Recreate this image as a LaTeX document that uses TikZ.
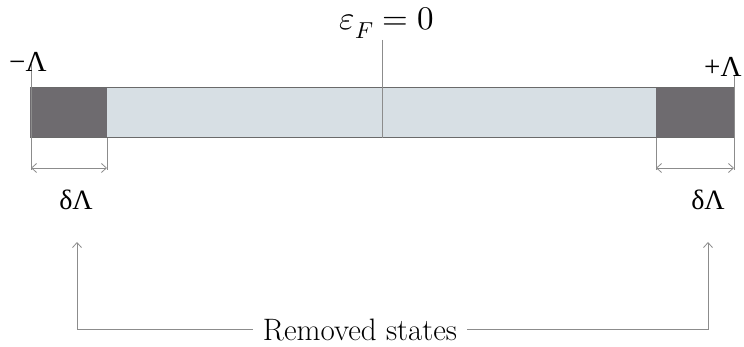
\documentclass[tikz,border=0pt]{standalone}
\usepackage{fontspec}
\usepackage{unicode-math}
\newfontfamily\tms{Liberation Serif}
\usetikzlibrary{arrows.meta}
\definecolor{darkbar}{HTML}{6E6B6F}
\definecolor{lightbar}{HTML}{D7DFE4}
\definecolor{linegray}{HTML}{8C8C8C}
\definecolor{edgegray}{HTML}{6A6A6A}
\begin{document}
\begin{tikzpicture}[x=1pt,y=-1pt,
  thin line/.style={draw=linegray, line width=0.9pt},
  barb/.style={-{Straight Barb[length=5pt,width=9pt,line width=0.8pt]}},
  barbs/.style={{Straight Barb[length=5pt,width=9pt,line width=0.8pt]}-{Straight Barb[length=5pt,width=9pt,line width=0.8pt]}},
  lbl/.style={inner sep=0pt, anchor=base, text=black}]
\useasboundingbox (0,0) rectangle (744,347);
% bar
\fill[lightbar] (107,88) rectangle (656,138);
\fill[darkbar] (30,88) rectangle (107,138);
\fill[darkbar] (656,88) rectangle (734,138);
\draw[draw=edgegray, line width=1pt] (30,88) -- (734,88);
\draw[draw=edgegray, line width=1pt] (30,138) -- (734,138);
% coordinates
\coordinate (lt) at (31,64);
\coordinate (rt) at (734,75);
\coordinate (ld) at (31,170);
\coordinate (lmd) at (107,170);
\coordinate (rmd) at (656,170);
\coordinate (rd) at (734,170);
\coordinate (lm) at (107,138);
\coordinate (rm) at (656,138);
\coordinate (ctop) at (382,40);
\coordinate (cbot) at (382,138);
\draw[thin line] (ctop) -- (cbot);
\draw[thin line] (lt) -- (ld);
\draw[thin line] (rt) -- (rd);
\draw[thin line] (lm) -- (lmd);
\draw[thin line] (rm) -- (rmd);
\coordinate (la) at (31,168);
\coordinate (lb) at (107,168);
\coordinate (ra) at (656,168);
\coordinate (rb) at (734,168);
\draw[thin line, barbs] (la) -- (lb);
\draw[thin line, barbs] (ra) -- (rb);
% labels
\node[lbl] (eps) at (387,30) {\fontsize{33}{38}\selectfont $\varepsilon_F = 0$};
\node[lbl, anchor=base west] (minL) at (9,72) {\tms\fontsize{29}{34}\selectfont −Λ};
\node[lbl, anchor=base west] (plusL) at (704,77) {\tms\fontsize{29}{34}\selectfont +Λ};
\node[lbl] (dl) at (76,210) {\tms\fontsize{28}{33}\selectfont δΛ};
\node[lbl] (dr) at (708,210) {\tms\fontsize{28}{33}\selectfont δΛ};
\node[lbl, inner xsep=10pt] (rs) at (360,340) {\fontsize{31}{35}\selectfont Removed states};
\coordinate (tipL) at (77,242);
\coordinate (tipR) at (708,242);
\draw[thin line, barb] (rs.west) -| (tipL);
\draw[thin line, barb] (rs.east) -| (tipR);
\end{tikzpicture}
\end{document}
